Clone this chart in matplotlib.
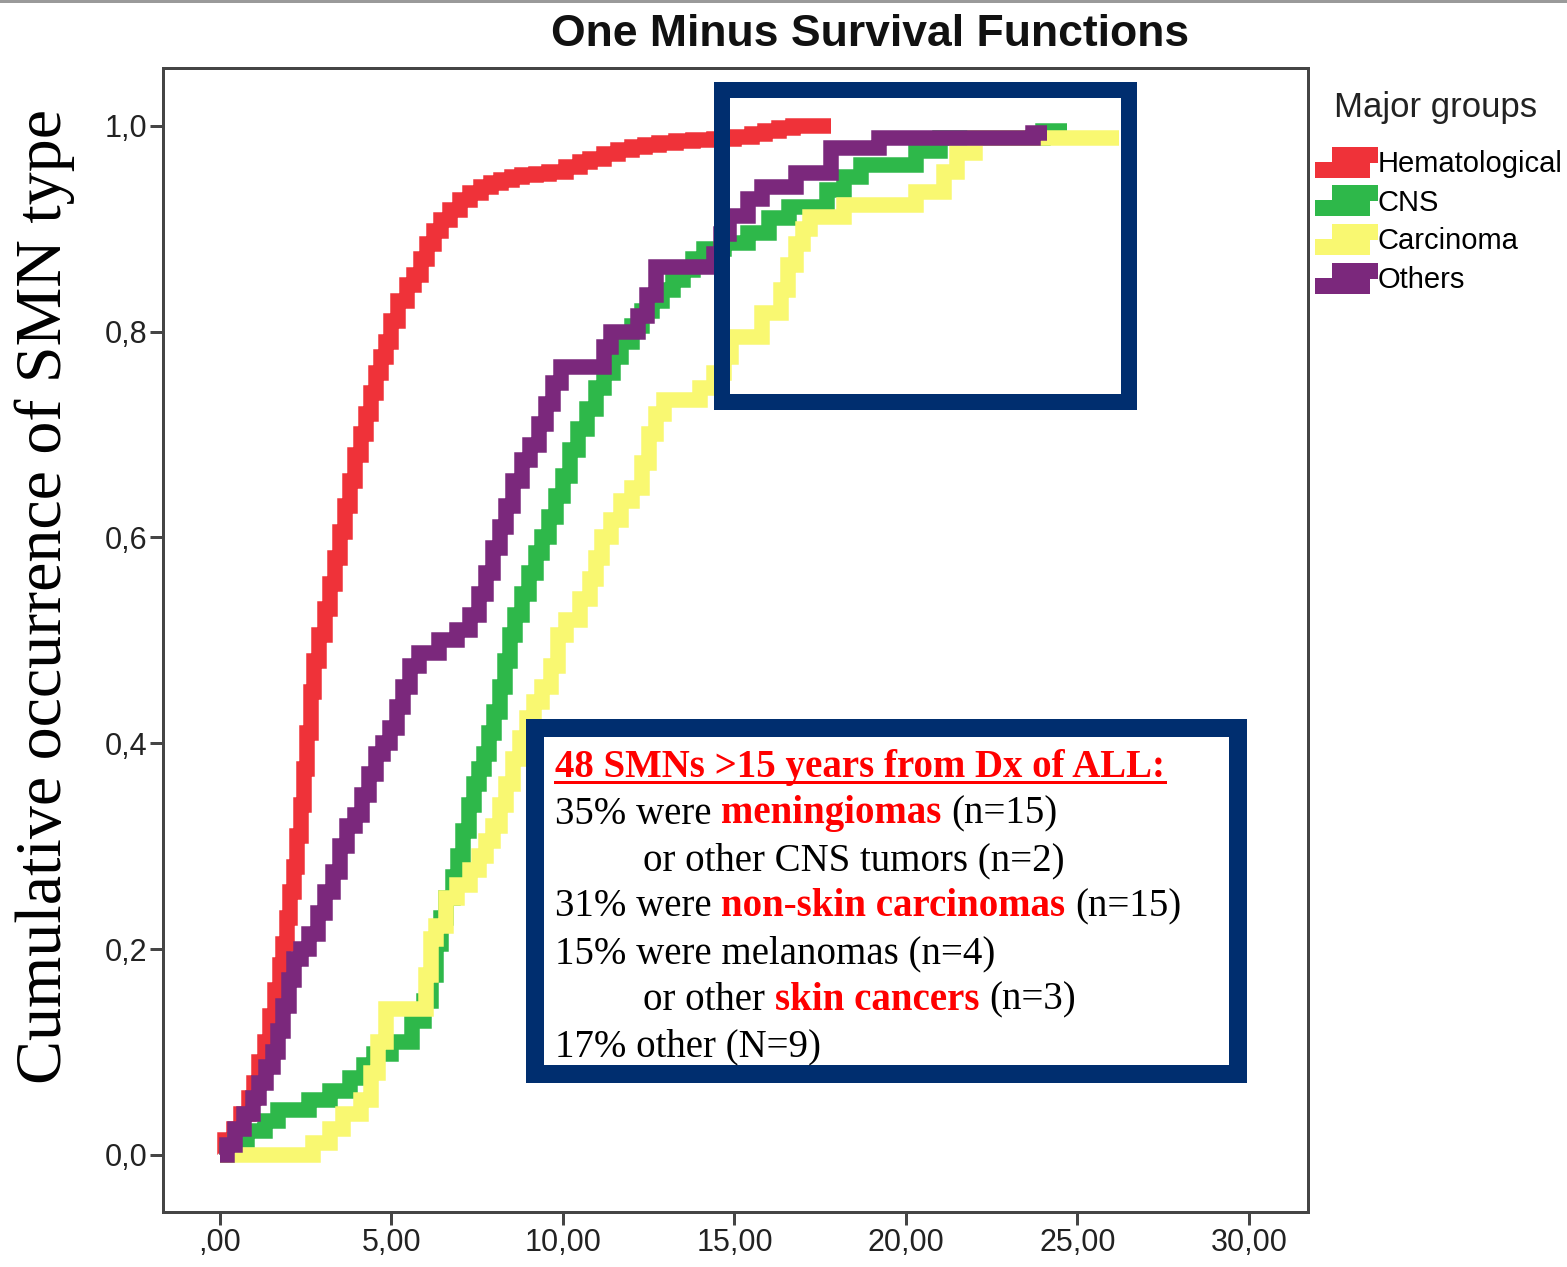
import matplotlib
matplotlib.use("Agg")
import matplotlib.pyplot as plt
from matplotlib.lines import Line2D
from matplotlib.patches import Rectangle
from matplotlib.legend_handler import HandlerBase
from matplotlib.ticker import FixedLocator, FixedFormatter

# ---------------------------------------------------------------------------
# Cumulative incidence (1 - survival) step data, time in years from diagnosis
# each entry: (time, cumulative proportion)
# ---------------------------------------------------------------------------
groups = ["Hematological", "CNS", "Carcinoma", "Others"]
colors = ["#EF3239", "#2EB84A", "#F9F871", "#7B287C"]

hema_steps = [
    (0, 0.0), (0.15, 0.015), (0.4, 0.025), (0.6, 0.04), (0.85, 0.055), (1.0, 0.07),
    (1.15, 0.09), (1.3, 0.11), (1.45, 0.135), (1.6, 0.16), (1.75, 0.185), (1.85, 0.205),
    (1.95, 0.23), (2.05, 0.255), (2.15, 0.28), (2.25, 0.31), (2.35, 0.34), (2.45, 0.375),
    (2.55, 0.41), (2.65, 0.45), (2.75, 0.48), (2.9, 0.505), (3.05, 0.53), (3.2, 0.555),
    (3.35, 0.58), (3.5, 0.605), (3.65, 0.63), (3.8, 0.655), (3.95, 0.68), (4.1, 0.70),
    (4.25, 0.72), (4.4, 0.74), (4.55, 0.76), (4.7, 0.775), (4.85, 0.79), (5.0, 0.81),
    (5.2, 0.83), (5.45, 0.845), (5.65, 0.855), (5.85, 0.87), (6.05, 0.885), (6.25, 0.898),
    (6.45, 0.908), (6.7, 0.918), (7.0, 0.928), (7.3, 0.935), (7.6, 0.94), (7.9, 0.944),
    (8.2, 0.947), (8.5, 0.95), (8.8, 0.952), (9.2, 0.953), (9.6, 0.955), (10.1, 0.96),
    (10.5, 0.965), (10.8, 0.968), (11.2, 0.972), (11.6, 0.976), (12.0, 0.979), (12.4, 0.981),
    (12.8, 0.983), (13.3, 0.985), (13.8, 0.986), (14.4, 0.987), (15.0, 0.989), (15.5, 0.992),
    (15.9, 0.995), (16.3, 0.998), (16.7, 1.0), (17.8, 1.0),
]

cns_steps = [
    (0, 0.0), (0.2, 0.005), (0.45, 0.015), (0.8, 0.023), (1.3, 0.033), (1.7, 0.044),
    (2.6, 0.053), (3.2, 0.062), (3.8, 0.075), (4.2, 0.087), (4.5, 0.098), (5.0, 0.11),
    (5.6, 0.13), (5.95, 0.15), (6.15, 0.175), (6.3, 0.205), (6.45, 0.23), (6.6, 0.25),
    (6.8, 0.27), (6.95, 0.29), (7.1, 0.315), (7.25, 0.34), (7.4, 0.36), (7.55, 0.375),
    (7.7, 0.39), (7.85, 0.41), (8.0, 0.43), (8.15, 0.455), (8.3, 0.48), (8.45, 0.505),
    (8.6, 0.525), (8.8, 0.545), (9.0, 0.565), (9.2, 0.585), (9.4, 0.60), (9.6, 0.62),
    (9.8, 0.64), (10.0, 0.66), (10.2, 0.685), (10.45, 0.705), (10.7, 0.725), (10.95, 0.745),
    (11.2, 0.76), (11.45, 0.775), (11.7, 0.79), (12.0, 0.805), (12.3, 0.82), (12.6, 0.83),
    (12.9, 0.84), (13.2, 0.85), (13.5, 0.86), (13.8, 0.87), (14.1, 0.88), (14.7, 0.886),
    (15.4, 0.896), (16.0, 0.91), (16.6, 0.921), (17.7, 0.937), (18.2, 0.95), (18.7, 0.962),
    (20.3, 0.975), (21.0, 0.988), (24.0, 0.995), (24.7, 0.995),
]

carcinoma_steps = [
    (0, 0.0), (2.7, 0.012), (3.2, 0.025), (3.6, 0.04), (4.1, 0.053), (4.4, 0.08),
    (4.6, 0.11), (4.85, 0.142), (6.0, 0.175), (6.15, 0.21), (6.3, 0.222), (6.6, 0.25),
    (6.9, 0.262), (7.3, 0.277), (7.55, 0.29), (7.75, 0.305), (7.95, 0.32), (8.15, 0.34),
    (8.35, 0.36), (8.55, 0.385), (8.75, 0.405), (8.95, 0.425), (9.15, 0.44), (9.4, 0.455),
    (9.65, 0.475), (9.85, 0.505), (10.1, 0.52), (10.5, 0.54), (10.8, 0.56), (10.95, 0.58),
    (11.15, 0.60), (11.4, 0.617), (11.7, 0.635), (12.0, 0.648), (12.3, 0.672), (12.5, 0.70),
    (12.7, 0.72), (12.95, 0.733), (14.0, 0.745), (14.4, 0.76), (14.7, 0.775), (14.9, 0.795),
    (15.8, 0.818), (16.35, 0.84), (16.55, 0.865), (16.8, 0.885), (17.0, 0.90), (17.2, 0.911),
    (18.2, 0.923), (20.3, 0.936), (21.1, 0.955), (21.5, 0.973), (22.0, 0.988), (26.2, 0.988),
]

others_steps = [
    (0, 0.0), (0.2, 0.01), (0.45, 0.025), (0.7, 0.04), (0.95, 0.055), (1.15, 0.07),
    (1.35, 0.085), (1.55, 0.10), (1.7, 0.12), (1.85, 0.145), (2.0, 0.17), (2.15, 0.19),
    (2.35, 0.20), (2.6, 0.215), (2.85, 0.235), (3.05, 0.255), (3.3, 0.275), (3.5, 0.30),
    (3.7, 0.32), (3.95, 0.33), (4.15, 0.35), (4.35, 0.37), (4.55, 0.39), (4.75, 0.40),
    (4.95, 0.415), (5.15, 0.435), (5.35, 0.455), (5.55, 0.475), (5.8, 0.488), (6.4, 0.50),
    (6.9, 0.51), (7.3, 0.525), (7.55, 0.545), (7.75, 0.565), (7.95, 0.59), (8.15, 0.61),
    (8.35, 0.63), (8.55, 0.655), (8.8, 0.675), (9.05, 0.69), (9.3, 0.71), (9.5, 0.73),
    (9.7, 0.75), (9.95, 0.766), (11.2, 0.785), (11.4, 0.80), (12.2, 0.815), (12.45, 0.835),
    (12.7, 0.863), (14.4, 0.875), (14.6, 0.895), (14.85, 0.912), (15.4, 0.929), (15.8, 0.94),
    (16.8, 0.954), (17.8, 0.978), (19.2, 0.988), (23.7, 0.993), (24.1, 0.993),
]

series = [hema_steps, cns_steps, carcinoma_steps, others_steps]

x_ticks = [0, 5, 10, 15, 20, 25, 30]
x_tick_labels = [",00", "5,00", "10,00", "15,00", "20,00", "25,00", "30,00"]
y_ticks = [0.0, 0.2, 0.4, 0.6, 0.8, 1.0]
y_tick_labels = ["0,0", "0,2", "0,4", "0,6", "0,8", "1,0"]

title_text = "One Minus Survival Functions"
y_label_text = "Cumulative occurrence of SMN type"
legend_title = "Major groups"

note_lines = [
    (0, [("48 SMNs >15 years from Dx of ALL:", "head")]),
    (0, [("35% were", "plain"), ("meningiomas", "red"), ("(n=15)", "plain")]),
    (1, [("or other CNS tumors (n=2)", "plain")]),
    (0, [("31% were", "plain"), ("non-skin carcinomas", "red"), ("(n=15)", "plain")]),
    (0, [("15% were melanomas (n=4)", "plain")]),
    (1, [("or other", "plain"), ("skin cancers", "red"), ("(n=3)", "plain")]),
    (0, [("17% other (N=9)", "plain")]),
]

# ---------------------------------------------------------------------------
W, H, DPI = 1567, 1267, 100
PX = 72.0 / DPI  # points per pixel
NAVY = "#002E6F"
SANS = ["Liberation Sans", "DejaVu Sans"]
SERIF = ["Liberation Serif", "DejaVu Serif"]


def fx(px):
    return px / W


def fy(py):
    return 1.0 - py / H


fig = plt.figure(figsize=(W / DPI, H / DPI), dpi=DPI, facecolor="white")
ax = fig.add_axes([fx(163), fy(1212), fx(1308) - fx(163), fy(68) - fy(1212)])

lines = []
for name, steps, col in zip(groups, series, colors):
    t = [p[0] for p in steps]
    v = [p[1] for p in steps]
    (ln,) = ax.step(t, v, where="post", color=col, lw=15.5 * PX,
                    solid_joinstyle="miter", solid_capstyle="butt", label=name)
    lines.append(ln)

ax.set_xlim(-1.66, 31.72)
ax.set_ylim(-0.0554, 1.056)
ax.xaxis.set_major_locator(FixedLocator(x_ticks))
ax.xaxis.set_major_formatter(FixedFormatter(x_tick_labels))
ax.yaxis.set_major_locator(FixedLocator(y_ticks))
ax.yaxis.set_major_formatter(FixedFormatter(y_tick_labels))
for sp in ax.spines.values():
    sp.set_color("#454545")
    sp.set_linewidth(3 * PX)
ax.tick_params(axis="both", direction="out", length=13 * PX, width=3 * PX,
               color="#454545", labelcolor="#222222", labelsize=22)
ax.tick_params(axis="x", pad=2)
ax.tick_params(axis="y", pad=2)
for lab in ax.get_xticklabels() + ax.get_yticklabels():
    lab.set_fontfamily(SANS)

# title and y label
fig.text(fx(870), fy(35), title_text, ha="center", va="center",
         fontsize=32, fontweight="bold", family=SANS, color="#111111")
fig.text(fx(45), fy(597), y_label_text, rotation=90, ha="center", va="center",
         fontsize=47.5, family=SERIF, color="black")


# legend with a step-shaped key
class StepKey(HandlerBase):
    def create_artists(self, legend, orig_handle, xdescent, ydescent,
                       width, height, fontsize, trans):
        x0, y0 = -xdescent, -ydescent
        lw = 16 * PX
        mid = y0 + height / 2
        lo, hi = mid - 7.5 * PX, mid + 7.5 * PX
        col = orig_handle.get_color()
        kw = dict(color=col, lw=lw, solid_capstyle="butt", transform=trans)
        low = Line2D([x0, x0 + 0.75 * width], [lo, lo], **kw)
        high = Line2D([x0 + 0.27 * width, x0 + width], [hi, hi], **kw)
        notch = Line2D([x0 + 0.81 * width] * 2, [hi, lo - lw / 2],
                       color=col, lw=8 * PX, solid_capstyle="butt", transform=trans)
        return [low, high, notch]


leg = fig.legend(lines, groups, loc="upper left",
                 bbox_to_anchor=(fx(1315), fy(149)), frameon=False,
                 handler_map={Line2D: StepKey()}, handlelength=2.15,
                 handleheight=1.0, handletextpad=0.0, labelspacing=0.33,
                 borderpad=0, borderaxespad=0,
                 prop={"family": SANS, "size": 21})
fig.text(fx(1436), fy(108), legend_title, ha="center", va="center",
         fontsize=25, family=SANS, color="#222222")

# highlight frame around the late-follow-up region
fig.add_artist(Rectangle((fx(722), fy(402)), fx(1129) - fx(722), fy(89.5) - fy(402),
                         transform=fig.transFigure, fill=False, ec=NAVY,
                         lw=16 * PX, joinstyle="miter", zorder=5))

# annotation panel
fig.add_artist(Rectangle((fx(535), fy(1074)), fx(1238) - fx(535), fy(728) - fy(1074),
                         transform=fig.transFigure, fc="white", ec=NAVY,
                         lw=18 * PX, joinstyle="miter", zorder=5))

styles = {
    "plain": dict(family=SERIF, fontsize=28, color="black", fontweight="normal"),
    "red": dict(family=SERIF, fontsize=28, color="#FF0000", fontweight="bold"),
    "head": dict(family=SERIF, fontsize=28, color="#FF0000", fontweight="bold"),
}

renderer = fig.canvas.get_renderer()


def text_width(s, st):
    t = fig.text(0, 0, s, **styles[st])
    w = t.get_window_extent(renderer).width
    t.remove()
    return w


space_w = {k: text_width("x x", k) - text_width("xx", k) for k in styles}

x_start = [555, 643]
baseline = 777
for indent, segs in note_lines:
    x = x_start[indent]
    for i, (s, st) in enumerate(segs):
        if i > 0:
            x += space_w[st]
        t = fig.text(fx(x), fy(baseline), s, ha="left", va="baseline",
                     zorder=6, **styles[st])
        w = t.get_window_extent(renderer).width
        if st == "head":
            fig.add_artist(Line2D([fx(x), fx(x + w)], [fy(baseline + 5)] * 2,
                                  transform=fig.transFigure, color="#FF0000",
                                  lw=3 * PX, zorder=6))
        x += w
    baseline += 46.5

# thin grey rule along the top edge
fig.add_artist(Line2D([0, 1], [fy(1), fy(1)], transform=fig.transFigure,
                      color="#9a9a9a", lw=3 * PX))

fig.savefig("out.png", dpi=DPI, facecolor="white")
